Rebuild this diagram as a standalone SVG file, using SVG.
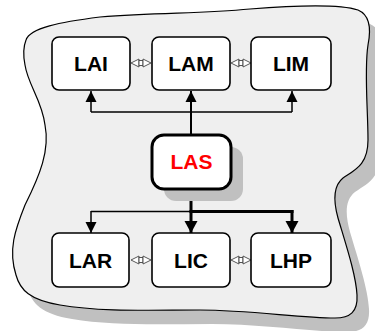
<svg xmlns="http://www.w3.org/2000/svg" xmlns:xlink="http://www.w3.org/1999/xlink" width="375" height="331" viewBox="0 0 375 331">
<style>
.node{fill:#fff;stroke:#000;stroke-width:1.6}
.lbl{font-family:"Liberation Sans",Arial,sans-serif;font-weight:bold;font-size:21px;text-anchor:middle;fill:#000}
.thin{stroke:#000;stroke-width:1.5;fill:none}
.thick{stroke:#000;stroke-width:3;fill:none}
.bi{fill:#fff;stroke:#444;stroke-width:0.9}
</style>
<defs>
<path id="cloud" d="M26,40 C30,28 60,22 100,17 C160,12 200,14 250,9 C300,5 340,4 358,10 C370,15 371,30 368,45 C364,70 368,110 368,140 C368,165 355,170 343,178 C333,186 333,200 338,218 C346,245 356,275 357,295 C358,312 350,318 335,318 C300,318 250,310 200,310 C150,310 100,312 60,305 C30,300 20,290 16,275 C8,250 15,230 25,205 C40,175 50,150 45,125 C42,100 28,85 25,65 C23,55 24,45 26,40 Z"/>
<marker id="ah" markerUnits="userSpaceOnUse" markerWidth="12" markerHeight="12" viewBox="0 0 12 12" refX="11" refY="6" orient="auto">
<path d="M0,0.5 L11,6 L0,11.5 Z" fill="#000"/>
</marker>
<marker id="ahb" markerUnits="userSpaceOnUse" markerWidth="14" markerHeight="14" viewBox="0 0 14 14" refX="13" refY="7" orient="auto">
<path d="M1,0.5 L13,7 L1,13.5 Z" fill="#000"/>
</marker>
<g id="bi">
<path class="bi" d="M0,0 L8,-4 L8,4 Z"/>
<rect class="bi" x="8" y="-2.5" width="4" height="5"/>
<path class="bi" d="M20,0 L12,-4 L12,4 Z"/>
</g>
</defs>
<use xlink:href="#cloud" transform="translate(12,14)" fill="#c0c0c0"/>
<use xlink:href="#cloud" fill="#efefef" stroke="#000" stroke-width="1.2"/>
<g id="connectors">
<line class="thin" x1="191" y1="135" x2="191" y2="91" marker-end="url(#ah)" style="stroke-width:2"/>
<polyline class="thin" points="91,112 292,112"/>
<line class="thin" x1="91" y1="112" x2="91" y2="91" marker-end="url(#ah)"/>
<line class="thin" x1="292" y1="112" x2="292" y2="91" marker-end="url(#ah)"/>
<line class="thick" x1="191" y1="189" x2="191" y2="233" marker-end="url(#ahb)"/>
<line class="thin" x1="91" y1="211.5" x2="191" y2="211.5"/>
<line class="thick" x1="189.5" y1="211.5" x2="293.5" y2="211.5"/>
<line class="thin" x1="91" y1="211" x2="91" y2="233" marker-end="url(#ah)"/>
<line class="thick" x1="292" y1="210" x2="292" y2="233" marker-end="url(#ahb)"/>
<use xlink:href="#bi" transform="translate(131,63)"/>
<use xlink:href="#bi" transform="translate(231,63)"/>
<use xlink:href="#bi" transform="translate(131,260)"/>
<use xlink:href="#bi" transform="translate(231,260)"/>
</g>
<g id="LAI"><rect class="node" x="52" y="37" width="78" height="53" rx="7"/><text class="lbl" x="91" y="70.5">LAI</text></g>
<g id="LAM"><rect class="node" x="152" y="37" width="78" height="53" rx="7"/><text class="lbl" x="191" y="70.5">LAM</text></g>
<g id="LIM"><rect class="node" x="251" y="37" width="80" height="53" rx="7"/><text class="lbl" x="291" y="70.5">LIM</text></g>
<g id="LAS"><rect x="164" y="147" width="79" height="54" rx="12" fill="#c0c0c0"/><rect class="node" x="152" y="135" width="79" height="54" rx="12" style="stroke-width:3"/><text class="lbl" x="191.5" y="169" style="fill:#ff0000">LAS</text></g>
<g id="LAR"><rect class="node" x="52" y="233" width="77" height="54" rx="7"/><text class="lbl" x="90.5" y="267.5">LAR</text></g>
<g id="LIC"><rect class="node" x="152" y="233" width="78" height="54" rx="7"/><text class="lbl" x="191" y="267.5">LIC</text></g>
<g id="LHP"><rect class="node" x="251" y="233" width="80" height="54" rx="7"/><text class="lbl" x="291" y="267.5">LHP</text></g>
</svg>
